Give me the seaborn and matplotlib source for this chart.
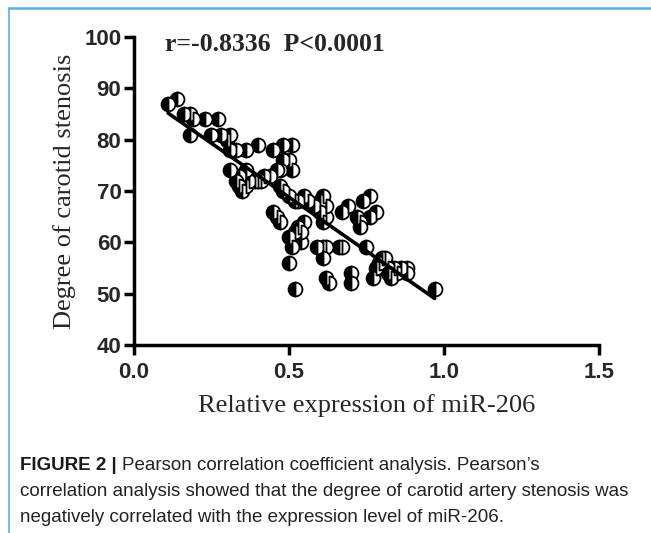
import matplotlib
matplotlib.use("Agg")
import matplotlib.pyplot as plt
import seaborn as sns
import numpy as np
import pandas as pd
from matplotlib.lines import Line2D

# ---- data ----
mir206 = [0.11, 0.14, 0.16, 0.18, 0.19, 0.23, 0.27, 0.18, 0.25, 0.28, 0.30, 0.31,
          0.31, 0.33, 0.36, 0.40, 0.45, 0.48, 0.51, 0.48, 0.50, 0.47, 0.51,
          0.31, 0.34, 0.33, 0.34, 0.35, 0.36, 0.37, 0.39, 0.40, 0.41, 0.42, 0.36,
          0.44, 0.46, 0.47, 0.48, 0.50, 0.52, 0.53,
          0.45, 0.46, 0.47,
          0.50, 0.50, 0.51, 0.52, 0.53, 0.54, 0.55, 0.54, 0.52,
          0.55, 0.56, 0.58, 0.60, 0.61, 0.60, 0.61, 0.62, 0.62,
          0.59, 0.61, 0.62, 0.61, 0.62, 0.63, 0.66, 0.67,
          0.67, 0.69, 0.72, 0.73, 0.73, 0.74, 0.76, 0.76, 0.78,
          0.70, 0.70, 0.75, 0.77,
          0.78, 0.79, 0.80, 0.81, 0.82, 0.82, 0.83, 0.84, 0.85, 0.86, 0.88, 0.88,
          0.97]
stenosis = [87, 88, 85, 85, 84, 84, 84, 81, 81, 81, 80, 81,
            78, 78, 78, 79, 78, 79, 79, 76, 76, 74, 74,
            74, 73, 72, 71, 70, 71, 72, 72, 72, 72, 73, 74,
            73, 74, 71, 70, 69, 68, 68,
            66, 65, 64,
            61, 56, 59, 62, 63, 60, 64, 62, 51,
            69, 68, 67, 68, 69, 66, 64, 65, 67,
            59, 59, 59, 57, 53, 52, 59, 59,
            66, 67, 65, 64, 63, 68, 69, 65, 66,
            54, 52, 59, 53,
            55, 56, 57, 57, 55, 54, 53, 55, 54, 55, 55, 54,
            51]
x_ticks = [0.0, 0.5, 1.0, 1.5]
x_ticklabels = ["0.0", "0.5", "1.0", "1.5"]
y_ticks = [40, 50, 60, 70, 80, 90, 100]
stat_text = "r=-0.8336  P<0.0001"
x_label = "Relative expression of miR-206"
y_label = "Degree of carotid stenosis"
caption_bold = "FIGURE 2 | "
caption_lines = ["Pearson correlation coefficient analysis. Pearson\u2019s",
                 "correlation analysis showed that the degree of carotid artery stenosis was",
                 "negatively correlated with the expression level of miR-206."]

df = pd.DataFrame({"x": mir206, "y": stenosis})

sns.set_style("ticks")
plt.rcParams["font.family"] = ["Liberation Sans", "DejaVu Sans"]

fig = plt.figure(figsize=(6.51, 5.33), dpi=100)
ax = fig.add_axes([0.2058, 0.3527, 0.7143, 0.5779])

sns.lineplot(data=df, x="x", y="y", ax=ax, estimator=None, sort=False,
             linestyle="", marker="o", markersize=10, fillstyle="left",
             markerfacecolor="black", markerfacecoloralt="white",
             markeredgecolor="black", markeredgewidth=1.3, zorder=3)
sns.regplot(data=df, x="x", y="y", ax=ax, scatter=False, ci=None, truncate=True,
            line_kws=dict(color="black", lw=2.6, zorder=4))

ax.set_xlim(0, 1.5)
ax.set_ylim(40, 100)
ax.set_xticks(x_ticks)
ax.set_xticklabels(x_ticklabels)
ax.set_yticks(y_ticks)
for lab in ax.get_xticklabels() + ax.get_yticklabels():
    lab.set_fontweight("bold")
    lab.set_fontsize(16)
ax.tick_params(axis="both", direction="out", length=7, width=2.5, color="black", pad=2)
ax.tick_params(axis="x", pad=5)
for s in ["top", "right"]:
    ax.spines[s].set_visible(False)
for s in ["left", "bottom"]:
    ax.spines[s].set_linewidth(2.5)
    ax.spines[s].set_color("black")

ax.set_xlabel(x_label, family=["Liberation Serif", "DejaVu Serif"], fontsize=19, labelpad=8)
ax.set_ylabel(y_label, family=["Liberation Serif", "DejaVu Serif"], fontsize=19, labelpad=6)

ax.text(0.067, 0.975, stat_text, transform=ax.transAxes, ha="left", va="center",
        family=["Liberation Serif", "DejaVu Serif"], fontweight="bold", fontsize=18.5)

# blue frame lines
fig.add_artist(Line2D([9/651, 1.0], [1 - 7.5/533, 1 - 7.5/533], transform=fig.transFigure,
                      color="#55b3e3", lw=1.8))
fig.add_artist(Line2D([9/651, 9/651], [0.0, 1 - 7.5/533], transform=fig.transFigure,
                      color="#55b3e3", lw=1.2))

# caption
cap_x = 20/651
line_y = [465, 491, 517]
fig.canvas.draw()
renderer = fig.canvas.get_renderer()
tb = fig.text(cap_x, 1 - line_y[0]/533, caption_bold, fontsize=13.5, fontweight="bold",
              va="center", ha="left", color="#1a1a1a")
bb = tb.get_window_extent(renderer=renderer)
fig.text(bb.x1/651, 1 - line_y[0]/533, caption_lines[0], fontsize=13.5,
         va="center", ha="left", color="#222222")
for ly, txt in zip(line_y[1:], caption_lines[1:]):
    fig.text(cap_x, 1 - ly/533, txt, fontsize=13.5, va="center", ha="left", color="#222222")

fig.savefig("out.png", dpi=100)
